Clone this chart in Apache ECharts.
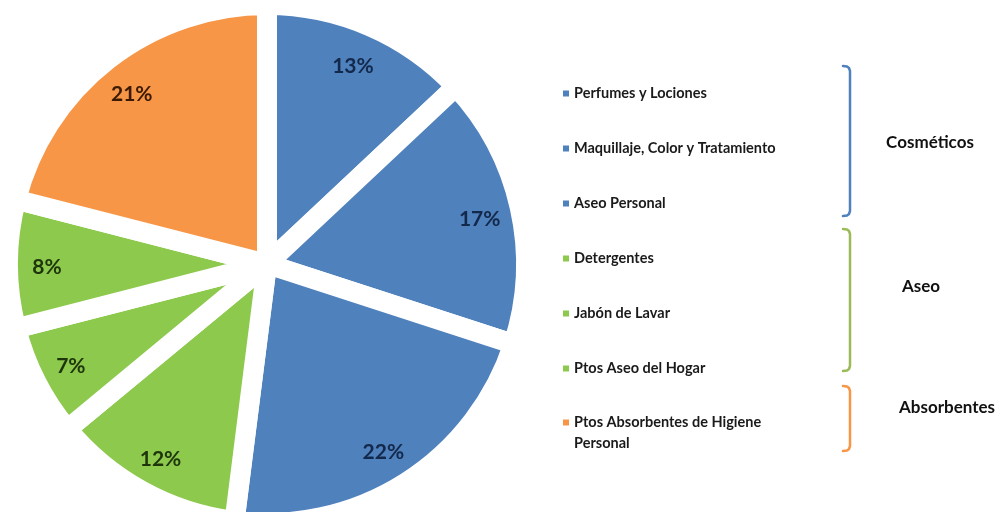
<!DOCTYPE html>
<html>
<head>
<meta charset="utf-8">
<script src="https://cdn.jsdelivr.net/npm/echarts@6/dist/echarts.min.js"></script>
<style>
html,body{margin:0;padding:0;background:#fff;}
#c{width:1003px;height:512px;}
</style>
</head>
<body>
<div id="c"></div>
<script>
const categories = [
  'Perfumes y Lociones',
  'Maquillaje, Color y Tratamiento',
  'Aseo Personal',
  'Detergentes',
  'Jabón de Lavar',
  'Ptos Aseo del Hogar',
  'Ptos Absorbentes de Higiene Personal'
];
const values = [13, 17, 22, 12, 7, 8, 21];
const groupOf = ['cos', 'cos', 'cos', 'aseo', 'aseo', 'aseo', 'abs'];
const groupNames = ['Cosméticos', 'Aseo', 'Absorbentes'];

const fillColor = { cos: '#4F81BD', aseo: '#8CC94C', abs: '#F79646' };
const labelColor = { cos: '#13294B', aseo: '#1E350C', abs: '#3A1A02' };
const bracketColor = { cos: '#4F81BD', aseo: '#9BBB59', abs: '#F79646' };

const chart = echarts.init(document.getElementById('c'));

const mainData = categories.map((n, i) => ({
  name: n, value: values[i],
  itemStyle: { color: fillColor[groupOf[i]] }
}));
const labelData = categories.map((n, i) => ({
  name: n, value: values[i],
  label: { color: labelColor[groupOf[i]] }
}));

function bracket(y0, y1, color) {
  const x = 850, h = 7;
  return {
    type: 'polyline',
    shape: { points: [[x - h, y0], [x - 3, y0 + 0.5], [x - 1, y0 + 2], [x, y0 + 5], [x, y1 - 5], [x - 1, y1 - 2], [x - 3, y1 - 0.5], [x - h, y1]] },
    style: { stroke: color, lineWidth: 2.5, fill: null, lineJoin: 'round', lineCap: 'round' },
    silent: true
  };
}
function groupText(txt, cx, cy) {
  return {
    type: 'text', x: cx, y: cy,
    style: { text: txt, fill: '#111', font: 'bold 17px Lato', align: 'center', verticalAlign: 'middle' },
    silent: true
  };
}

const legendText = { fontFamily: 'Lato', fontWeight: 'bold', fontSize: 14.5, color: '#1a1a1a', lineHeight: 21 };
const legendBase = {
  orient: 'vertical',
  left: 558,
  height: 440,
  itemWidth: 6,
  itemHeight: 6,
  itemGap: 34,
  icon: 'rect',
  itemStyle: { borderWidth: 0 },
  textStyle: legendText
};

chart.setOption({
  backgroundColor: '#fff',
  animation: false,
  legend: [
    Object.assign({}, legendBase, {
      top: 78,
      data: categories.slice(0, 6)
    }),
    Object.assign({}, legendBase, {
      top: 386,
      data: categories.slice(6),
      formatter: function () {
        return '\nPtos Absorbentes de Higiene\nPersonal';
      }
    })
  ],
  series: [
    {
      type: 'pie',
      center: [267, 264],
      radius: [0, 259],
      startAngle: 90,
      clockwise: true,
      label: { show: false },
      labelLine: { show: false },
      itemStyle: { borderColor: '#fff', borderWidth: 20 },
      emphasis: { disabled: true },
      data: mainData
    },
    {
      type: 'pie',
      center: [266, 267],
      radius: [195, 237],
      startAngle: 90,
      clockwise: true,
      silent: true,
      itemStyle: { color: 'transparent' },
      label: {
        show: true, position: 'inside', formatter: '{c}%',
        fontFamily: 'Lato', fontWeight: 'bold', fontSize: 21
      },
      labelLine: { show: false },
      emphasis: { disabled: true },
      data: labelData
    }
  ],
  graphic: [
    bracket(66, 216, bracketColor.cos),
    bracket(229, 371, bracketColor.aseo),
    bracket(386, 451, bracketColor.abs),
    groupText(groupNames[0], 930, 143),
    groupText(groupNames[1], 921, 287),
    groupText(groupNames[2], 947, 408)
  ]
});
</script>
</body>
</html>
